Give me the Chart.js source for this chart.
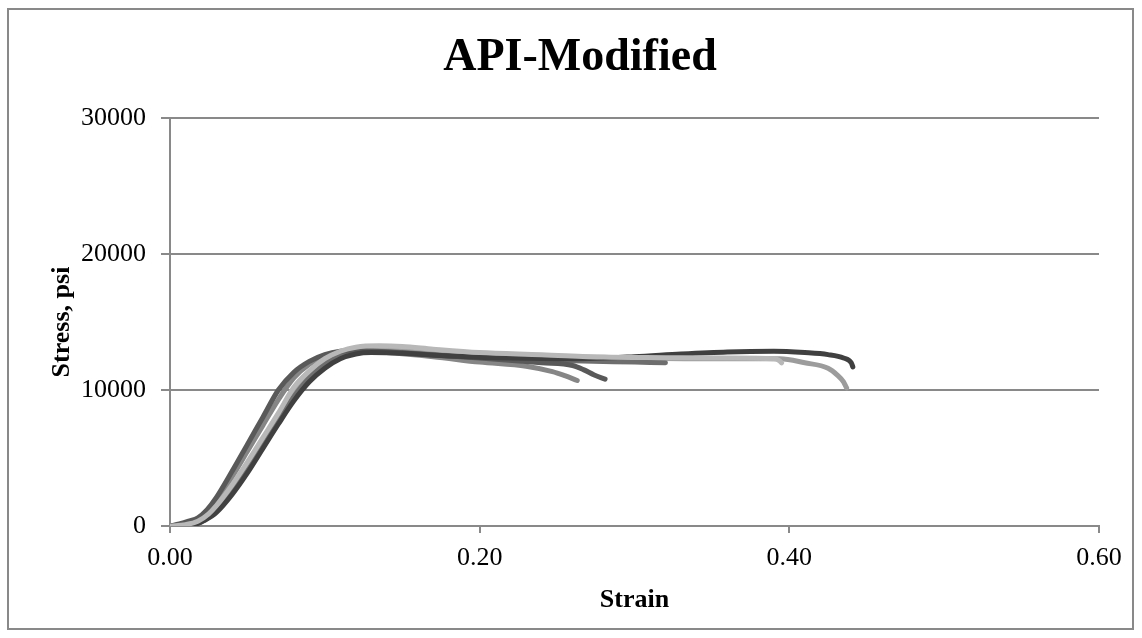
<!DOCTYPE html>
<html><head><meta charset="utf-8">
<script src="https://cdn.jsdelivr.net/npm/chart.js@4.4.1/dist/chart.umd.min.js"></script>
<style>html,body{margin:0;padding:0;background:#fff;}#wrap{width:1142px;height:638px;}</style>
</head><body><div id="wrap"><canvas id="c" width="1142" height="638"></canvas></div>
<script>
const chartTitle = 'API-Modified';
const xTitle = 'Strain';
const yTitle = 'Stress, psi';
const xTicks = [0, 0.2, 0.4, 0.6];
const yTicks = [0, 10000, 20000, 30000];

// Series L (light gray)
const strainL = [0,0.01,0.018,0.025,0.03,0.04,0.05,0.06,0.07,0.08,0.09,0.10,0.11,0.12,0.135,0.15,0.17,0.20,0.24,0.28,0.32,0.36,0.39,0.393,0.395];
const stressL = [0,100,350,900,1500,3000,4700,6500,8300,10200,11400,12300,12850,13150,13250,13200,13000,12750,12600,12420,12380,12350,12300,12200,12000];
// Series A (darkest, longest)
const strainA = [0,0.01,0.017,0.022,0.03,0.04,0.05,0.06,0.07,0.08,0.09,0.10,0.11,0.12,0.13,0.15,0.18,0.22,0.26,0.30,0.33,0.36,0.39,0.41,0.425,0.435,0.44,0.441];
const stressA = [0,40,150,400,1000,2300,3900,5700,7500,9200,10600,11600,12300,12650,12750,12700,12500,12350,12300,12450,12650,12800,12850,12750,12600,12350,12000,11700];
// Series D (dark, earliest rise)
const strainD = [0,0.006,0.012,0.018,0.024,0.03,0.04,0.05,0.06,0.07,0.08,0.09,0.10,0.11,0.12,0.14,0.16,0.20,0.24,0.26,0.267,0.274,0.281];
const stressD = [0,150,350,600,1200,2100,4000,6000,8000,10000,11300,12100,12600,12850,12900,12800,12650,12350,12000,11800,11500,11100,10800];
// Series F (mid-dark, ends ~0.32)
const strainF = [0,0.01,0.02,0.03,0.04,0.05,0.06,0.07,0.08,0.09,0.10,0.11,0.12,0.13,0.15,0.18,0.22,0.26,0.30,0.32];
const stressF = [0,50,300,1100,2500,4200,6000,7800,9500,10900,11900,12500,12800,12850,12750,12500,12300,12150,12050,12000];
// Series E (medium, ends ~0.263)
const strainE = [0,0.008,0.015,0.022,0.03,0.04,0.05,0.06,0.07,0.08,0.09,0.10,0.11,0.12,0.14,0.17,0.20,0.23,0.247,0.255,0.263];
const stressE = [0,100,300,800,1900,3600,5500,7400,9300,10900,11900,12500,12800,12850,12750,12450,12050,11750,11350,11050,10700];
// Series M (medium-light, ends ~0.437)
const strainM = [0,0.01,0.02,0.03,0.04,0.05,0.06,0.07,0.08,0.09,0.10,0.11,0.12,0.135,0.15,0.18,0.22,0.26,0.30,0.34,0.38,0.394,0.41,0.425,0.431,0.435,0.437];
const stressM = [0,80,400,1300,2800,4500,6300,8100,9900,11200,12100,12650,12950,13100,13050,12800,12600,12450,12350,12300,12300,12300,12000,11600,11100,10600,10150];

const seriesStrain = [strainL, strainA, strainD, strainF, strainE, strainM];
const seriesStress = [stressL, stressA, stressD, stressF, stressE, stressM];
const seriesColors = ['#b8b8b8', '#404040', '#595959', '#6e6e6e', '#868686', '#9c9c9c'];

const GRID = '#898989';
const FONT = 'Liberation Serif';

const datasets = seriesStrain.map((xs, i) => ({
  data: xs.map((x, j) => ({x: x, y: seriesStress[i][j]})),
  borderColor: seriesColors[i],
  backgroundColor: seriesColors[i],
  borderWidth: 5,
  showLine: true,
  pointRadius: 0,
  pointHoverRadius: 0,
  cubicInterpolationMode: 'monotone',
  borderCapStyle: 'round',
  borderJoinStyle: 'round',
  order: i,
  fill: false
}));

const framePlugin = {
  id: 'frame',
  beforeDraw(chart) {
    const c = chart.ctx;
    c.save();
    c.fillStyle = '#ffffff';
    c.fillRect(0, 0, chart.width, chart.height);
    c.strokeStyle = GRID;
    c.lineWidth = 2;
    c.strokeRect(8, 9, 1125, 620);
    c.restore();
  },
  afterLayout(chart) {
    const t = chart.titleBlock;
    if (t) {
      const w = t.right - t.left;
      t.left = 580 - w / 2;
      t.right = 580 + w / 2;
    }
  }
};

new Chart(document.getElementById('c'), {
  type: 'scatter',
  data: { datasets },
  plugins: [framePlugin],
  options: {
    responsive: false,
    animation: false,
    devicePixelRatio: 1,
    layout: { padding: { left: 8, right: 43, top: 9, bottom: 8 } },
    plugins: {
      legend: { display: false },
      tooltip: { enabled: false },
      title: {
        display: true,
        text: chartTitle,
        color: '#000',
        font: { family: FONT, size: 46, weight: 'bold' },
        padding: { top: 22, bottom: 31.8 }
      }
    },
    scales: {
      x: {
        type: 'linear',
        position: 'bottom',
        min: 0, max: 0.6,
        afterBuildTicks(s) { s.ticks = xTicks.map(v => ({ value: v })); },
        afterFit(s) { s.height = 104; },
        grid: { display: true, drawOnChartArea: false, drawTicks: true, tickLength: 7, color: GRID, lineWidth: 2 },
        border: { display: true, color: GRID, width: 2 },
        ticks: {
          padding: 10, color: '#000', maxRotation: 0, autoSkip: false,
          font: { family: FONT, size: 26 },
          callback: v => Number(v).toFixed(2)
        },
        title: {
          display: true, text: xTitle, color: '#000',
          font: { family: FONT, size: 26, weight: 'bold' },
          padding: { top: 0, bottom: 14.4 }
        }
      },
      y: {
        type: 'linear',
        position: 'left',
        min: 0, max: 30000,
        afterBuildTicks(s) { s.ticks = yTicks.map(v => ({ value: v })); },
        afterFit(s) { s.width = 162; },
        grid: { display: true, drawOnChartArea: true, drawTicks: true, tickLength: 9, color: GRID, lineWidth: 2 },
        border: { display: true, color: GRID, width: 2 },
        ticks: {
          padding: 15, color: '#000',
          font: { family: FONT, size: 26 },
          callback: v => String(v)
        },
        title: {
          display: true, text: yTitle, color: '#000',
          font: { family: FONT, size: 26, weight: 'bold' },
          padding: { top: 38.4, bottom: 0 }
        }
      }
    }
  }
});
</script>
</body></html>
